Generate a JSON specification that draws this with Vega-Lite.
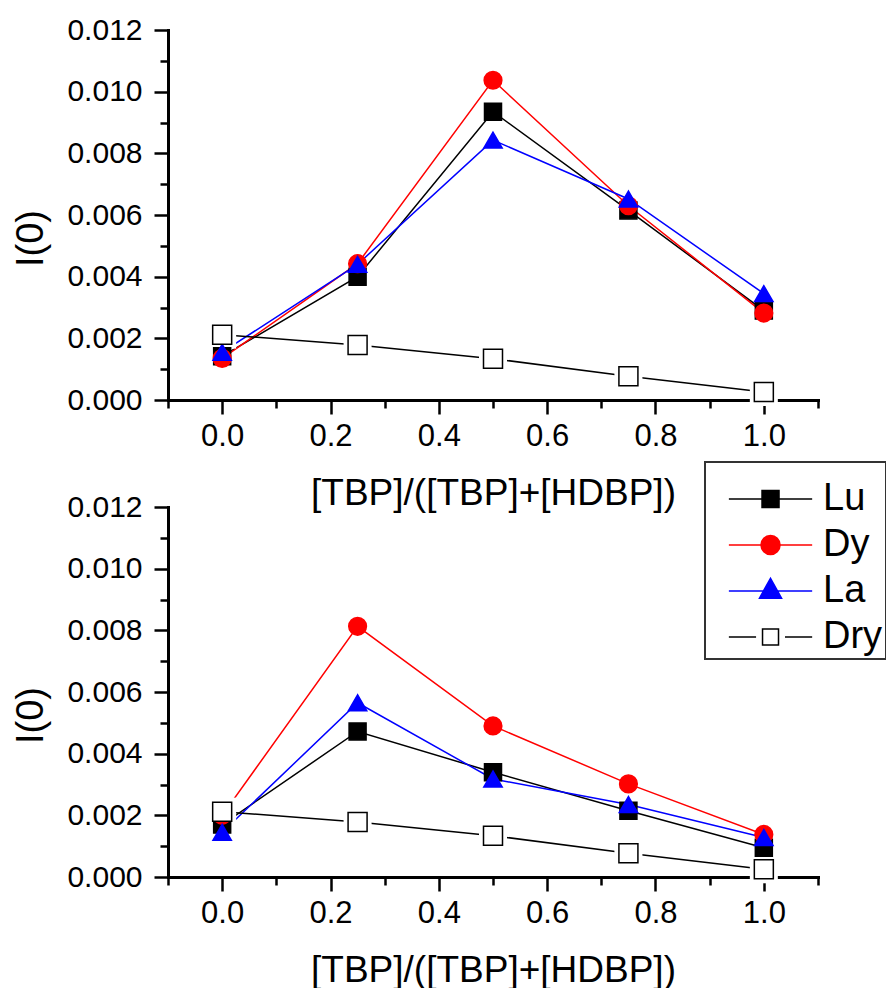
{
  "$schema": "https://vega.github.io/schema/vega-lite/v6.json",
  "background": "white",
  "padding": {"left": 12, "top": 15, "right": 0, "bottom": 0},
  "config": {
    "view": {"stroke": null},
    "font": "Liberation Sans",
    "axis": {
      "grid": false,
      "domainColor": "#000000",
      "domainWidth": 3,
      "domainCap": "square",
      "tickColor": "#000000",
      "tickWidth": 2.5,
      "labelColor": "#000000",
      "labelFont": "Liberation Sans",
      "labelOverlap": false,
      "labelFlush": false,
      "titleColor": "#000000",
      "titleFont": "Liberation Sans",
      "titleFontWeight": "normal"
    }
  },
  "data": {"values": [
    {"panel": "top", "series": "Lu", "x": 0.0, "y": 0.00142},
    {"panel": "top", "series": "Lu", "x": 0.25, "y": 0.00400},
    {"panel": "top", "series": "Lu", "x": 0.5, "y": 0.00935},
    {"panel": "top", "series": "Lu", "x": 0.75, "y": 0.00615},
    {"panel": "top", "series": "Lu", "x": 1.0, "y": 0.00290},
    {"panel": "top", "series": "Dy", "x": 0.0, "y": 0.00135},
    {"panel": "top", "series": "Dy", "x": 0.25, "y": 0.00442},
    {"panel": "top", "series": "Dy", "x": 0.5, "y": 0.01037},
    {"panel": "top", "series": "Dy", "x": 0.75, "y": 0.00630},
    {"panel": "top", "series": "Dy", "x": 1.0, "y": 0.00282},
    {"panel": "top", "series": "La", "x": 0.0, "y": 0.00155},
    {"panel": "top", "series": "La", "x": 0.25, "y": 0.00440},
    {"panel": "top", "series": "La", "x": 0.5, "y": 0.00843},
    {"panel": "top", "series": "La", "x": 0.75, "y": 0.00652},
    {"panel": "top", "series": "La", "x": 1.0, "y": 0.00345},
    {"panel": "top", "series": "Dry", "x": 0.0, "y": 0.00212},
    {"panel": "top", "series": "Dry", "x": 0.25, "y": 0.00178},
    {"panel": "top", "series": "Dry", "x": 0.5, "y": 0.00134},
    {"panel": "top", "series": "Dry", "x": 0.75, "y": 0.00077},
    {"panel": "top", "series": "Dry", "x": 1.0, "y": 0.00026},
    {"panel": "bottom", "series": "Lu", "x": 0.0, "y": 0.00170},
    {"panel": "bottom", "series": "Lu", "x": 0.25, "y": 0.00472},
    {"panel": "bottom", "series": "Lu", "x": 0.5, "y": 0.00340},
    {"panel": "bottom", "series": "Lu", "x": 0.75, "y": 0.00215},
    {"panel": "bottom", "series": "Lu", "x": 1.0, "y": 0.00095},
    {"panel": "bottom", "series": "Dy", "x": 0.0, "y": 0.00200},
    {"panel": "bottom", "series": "Dy", "x": 0.25, "y": 0.00813},
    {"panel": "bottom", "series": "Dy", "x": 0.5, "y": 0.00490},
    {"panel": "bottom", "series": "Dy", "x": 0.75, "y": 0.00302},
    {"panel": "bottom", "series": "Dy", "x": 1.0, "y": 0.00138},
    {"panel": "bottom", "series": "La", "x": 0.0, "y": 0.00145},
    {"panel": "bottom", "series": "La", "x": 0.25, "y": 0.00565},
    {"panel": "bottom", "series": "La", "x": 0.5, "y": 0.00318},
    {"panel": "bottom", "series": "La", "x": 0.75, "y": 0.00235},
    {"panel": "bottom", "series": "La", "x": 1.0, "y": 0.00128},
    {"panel": "bottom", "series": "Dry", "x": 0.0, "y": 0.00212},
    {"panel": "bottom", "series": "Dry", "x": 0.25, "y": 0.00178},
    {"panel": "bottom", "series": "Dry", "x": 0.5, "y": 0.00134},
    {"panel": "bottom", "series": "Dry", "x": 0.75, "y": 0.00077},
    {"panel": "bottom", "series": "Dry", "x": 1.0, "y": 0.00025}
  ]},
  "spacing": 107,
  "bounds": "flush",
  "resolve": {"scale": {"color": "independent"}, "legend": {"color": "independent"}},
  "vconcat": [
    {
      "width": 650, "height": 370,
      "transform": [{"filter": "datum.panel === 'top'"}],
      "resolve": {"axis": {"x": "independent", "y": "independent"}},
      "layer": [
        {
          "mark": {"type": "line", "strokeWidth": 1.5},
          "encoding": {
            "x": {"field": "x", "type": "quantitative", "scale": {"domain": [-0.1, 1.1], "nice": false, "zero": false},
              "axis": {"orient": "bottom", "values": [0, 0.2, 0.4, 0.6, 0.8, 1.0], "format": ".1f", "tickSize": 14, "labelFontSize": 31, "labelPadding": 7, "title": "[TBP]/([TBP]+[HDBP])", "titleFontSize": 37, "titleBaseline": "alphabetic", "titleY": 104}},
            "y": {"field": "y", "type": "quantitative", "scale": {"domain": [0, 0.012], "nice": false},
              "axis": {"orient": "left", "values": [0, 0.002, 0.004, 0.006, 0.008, 0.010, 0.012], "format": ".3f", "tickSize": 14, "labelFontSize": 30, "labelPadding": 12, "title": "I(0)", "titleFontSize": 38, "titleBaseline": "middle", "titleX": -137, "titleY": 208}},
            "color": {"field": "series", "type": "nominal", "scale": {"domain": ["Lu", "Dy", "La", "Dry"], "range": ["#000000", "#ff0000", "#0000ff", "#000000"]}, "legend": null}
          }
        },
        {
          "transform": [{"filter": "datum.series === 'Dry'"}],
          "mark": {"type": "point", "shape": "square", "filled": true, "fill": "#ffffff", "opacity": 1, "size": 784, "strokeWidth": 0},
          "encoding": {
            "x": {"field": "x", "type": "quantitative", "axis": {"orient": "bottom", "values": [-0.1, 0.1, 0.3, 0.5, 0.7, 0.9, 1.1], "tickSize": 8, "labels": false, "domain": false, "title": null}},
            "y": {"field": "y", "type": "quantitative", "axis": {"orient": "left", "values": [0.001, 0.003, 0.005, 0.007, 0.009, 0.011], "tickSize": 8, "labels": false, "domain": false, "title": null}}
          }
        },
        {
          "mark": {"type": "point", "filled": true, "opacity": 1, "strokeWidth": 1.5},
          "encoding": {
            "x": {"field": "x", "type": "quantitative", "axis": null},
            "y": {"field": "y", "type": "quantitative", "axis": null},
            "shape": {"field": "series", "type": "nominal", "scale": {"domain": ["Lu", "Dy", "La", "Dry"], "range": ["square", "circle", "triangle-up", "square"]}, "legend": null},
            "fill": {"field": "series", "type": "nominal", "scale": {"domain": ["Lu", "Dy", "La", "Dry"], "range": ["#000000", "#ff0000", "#0000ff", "#ffffff"]}, "legend": null},
            "stroke": {"field": "series", "type": "nominal", "scale": {"domain": ["Lu", "Dy", "La", "Dry"], "range": ["#000000", "#ff0000", "#0000ff", "#000000"]}, "legend": null},
            "size": {"field": "series", "type": "ordinal", "scale": {"domain": ["Lu", "Dy", "La", "Dry"], "range": [289, 361, 484, 256]}, "legend": null}
          }
        }
      ]
    },
    {
      "width": 650, "height": 370,
      "transform": [{"filter": "datum.panel === 'bottom'"}],
      "resolve": {"axis": {"x": "independent", "y": "independent"}},
      "layer": [
        {
          "mark": {"type": "line", "strokeWidth": 1.5},
          "encoding": {
            "x": {"field": "x", "type": "quantitative", "scale": {"domain": [-0.1, 1.1], "nice": false, "zero": false},
              "axis": {"orient": "bottom", "values": [0, 0.2, 0.4, 0.6, 0.8, 1.0], "format": ".1f", "tickSize": 14, "labelFontSize": 31, "labelPadding": 7, "title": "[TBP]/([TBP]+[HDBP])", "titleFontSize": 37, "titleBaseline": "alphabetic", "titleY": 104}},
            "y": {"field": "y", "type": "quantitative", "scale": {"domain": [0, 0.012], "nice": false},
              "axis": {"orient": "left", "values": [0, 0.002, 0.004, 0.006, 0.008, 0.010, 0.012], "format": ".3f", "tickSize": 14, "labelFontSize": 30, "labelPadding": 12, "title": "I(0)", "titleFontSize": 38, "titleBaseline": "middle", "titleX": -137, "titleY": 208}},
            "color": {"field": "series", "type": "nominal", "scale": {"domain": ["Lu", "Dy", "La", "Dry"], "range": ["#000000", "#ff0000", "#0000ff", "#000000"]},
              "legend": {
                "orient": "none", "legendX": 537, "legendY": -45,
                "title": " ", "titleFontSize": 12, "titlePadding": 3,
                "symbolSize": 289, "symbolStrokeWidth": 1.5,
                "labelFontSize": 38, "labelFont": "Liberation Sans", "labelColor": "#000000", "labelOffset": 77,
                "rowPadding": 8, "padding": 3, "strokeColor": "#333333",
                "encode": {
                  "legend": {"update": {"strokeWidth": {"value": 2}}},
                  "symbols": {"update": {
                    "shape": {"signal": "datum.value === 'Lu' ? 'M0.22,0H10.02M4.12,-1H6.12V1H4.12Z' : datum.value === 'Dy' ? 'M0.22,0H10.02M4,0A1.12,1.12,0,1,1,6.24,0A1.12,1.12,0,1,1,4,0Z' : datum.value === 'La' ? 'M0.22,0H10.02M5.12,-1.5L6.42,0.85H3.82Z' : 'M0.22,0H3.42M6.82,0H10.02M4.18,-0.94H6.06V0.94H4.18Z'"},
                    "fill": {"signal": "datum.value === 'Lu' ? '#000000' : datum.value === 'Dy' ? '#ff0000' : datum.value === 'La' ? '#0000ff' : '#ffffff'"},
                    "stroke": {"signal": "datum.value === 'Dy' ? '#ff0000' : datum.value === 'La' ? '#0000ff' : '#000000'"},
                    "strokeWidth": {"value": 1.5},
                    "opacity": {"value": 1}
                  }}
                }
              }}
          }
        },
        {
          "transform": [{"filter": "datum.series === 'Dry'"}],
          "mark": {"type": "point", "shape": "square", "filled": true, "fill": "#ffffff", "opacity": 1, "size": 784, "strokeWidth": 0},
          "encoding": {
            "x": {"field": "x", "type": "quantitative", "axis": {"orient": "bottom", "values": [-0.1, 0.1, 0.3, 0.5, 0.7, 0.9, 1.1], "tickSize": 8, "labels": false, "domain": false, "title": null}},
            "y": {"field": "y", "type": "quantitative", "axis": {"orient": "left", "values": [0.001, 0.003, 0.005, 0.007, 0.009, 0.011], "tickSize": 8, "labels": false, "domain": false, "title": null}}
          }
        },
        {
          "mark": {"type": "point", "filled": true, "opacity": 1, "strokeWidth": 1.5},
          "encoding": {
            "x": {"field": "x", "type": "quantitative", "axis": null},
            "y": {"field": "y", "type": "quantitative", "axis": null},
            "shape": {"field": "series", "type": "nominal", "scale": {"domain": ["Lu", "Dy", "La", "Dry"], "range": ["square", "circle", "triangle-up", "square"]}, "legend": null},
            "fill": {"field": "series", "type": "nominal", "scale": {"domain": ["Lu", "Dy", "La", "Dry"], "range": ["#000000", "#ff0000", "#0000ff", "#ffffff"]}, "legend": null},
            "stroke": {"field": "series", "type": "nominal", "scale": {"domain": ["Lu", "Dy", "La", "Dry"], "range": ["#000000", "#ff0000", "#0000ff", "#000000"]}, "legend": null},
            "size": {"field": "series", "type": "ordinal", "scale": {"domain": ["Lu", "Dy", "La", "Dry"], "range": [289, 361, 484, 256]}, "legend": null}
          }
        }
      ]
    }
  ]
}
